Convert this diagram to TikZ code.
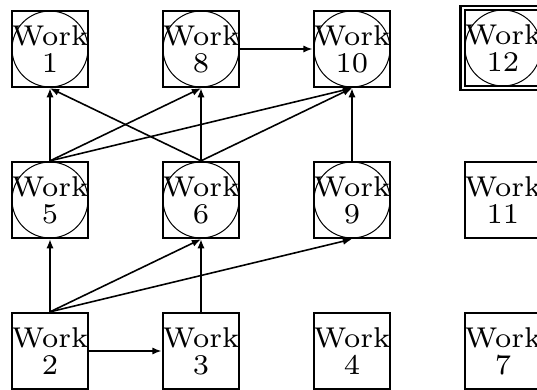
\documentclass[tikz,border=0pt]{standalone}
\usetikzlibrary{arrows.meta}
\begin{document}
\begin{tikzpicture}[x=0.2516pt, y=-0.2516pt,
  work/.style={draw, line width=0.6pt, minimum width=19.1pt, minimum height=19.1pt,
    inner sep=0pt, align=center, font=\fontsize{7.2}{6.8}\selectfont},
  ring/.style={draw, circle, line width=0.25pt, minimum size=19.1pt, inner sep=0pt},
  link/.style={line width=0.4pt, -{Latex[length=2.3pt, width=1.8pt]}}]
\useasboundingbox (0,0) rectangle (537,390);

% boxes
\node[work] (w1)  at (50,49)   {Work\\1};
\node[work] (w8)  at (201,49)  {Work\\8};
\node[work] (w10) at (352,49)  {Work\\10};
\node[work] (w12) at (503,48)  {Work\\12};
\node[work] (w5)  at (50,200)  {Work\\5};
\node[work] (w6)  at (201,200) {Work\\6};
\node[work] (w9)  at (352,200) {Work\\9};
\node[work] (w11) at (503,200) {Work\\11};
\node[work] (w2)  at (50,351)  {Work\\2};
\node[work] (w3)  at (201,351) {Work\\3};
\node[work] (w4)  at (352,351) {Work\\4};
\node[work] (w7)  at (503,351) {Work\\7};

% circles drawn inside some boxes
\foreach \n in {w1,w8,w10,w12,w5,w6,w9}
  \node[ring] (c\n) at (\n) {};

% second frame around box 12
\draw[line width=0.6pt] ([shift={(-3,-3)}]w12.north west) rectangle ([shift={(3,3)}]w12.south east);

% connectors
\draw[link] (w5.north) -- (w1.south);
\draw[link] (w6.north) -- (w1.south);
\draw[link] (w5.north) -- (w8.south);
\draw[link] (w6.north) -- (w8.south);
\draw[link] (w5.north) -- (w10.south);
\draw[link] (w6.north) -- (w10.south);
\draw[link] (w9.north) -- (w10.south);
\draw[link] (w8.east) -- (w10.west);
\draw[link] (w2.north) -- (w5.south);
\draw[link] (w2.north) -- (w6.south);
\draw[link] (w2.north) -- (w9.south);
\draw[link] (w3.north) -- (w6.south);
\draw[link] (w2.east) -- (w3.west);
\end{tikzpicture}
\end{document}
